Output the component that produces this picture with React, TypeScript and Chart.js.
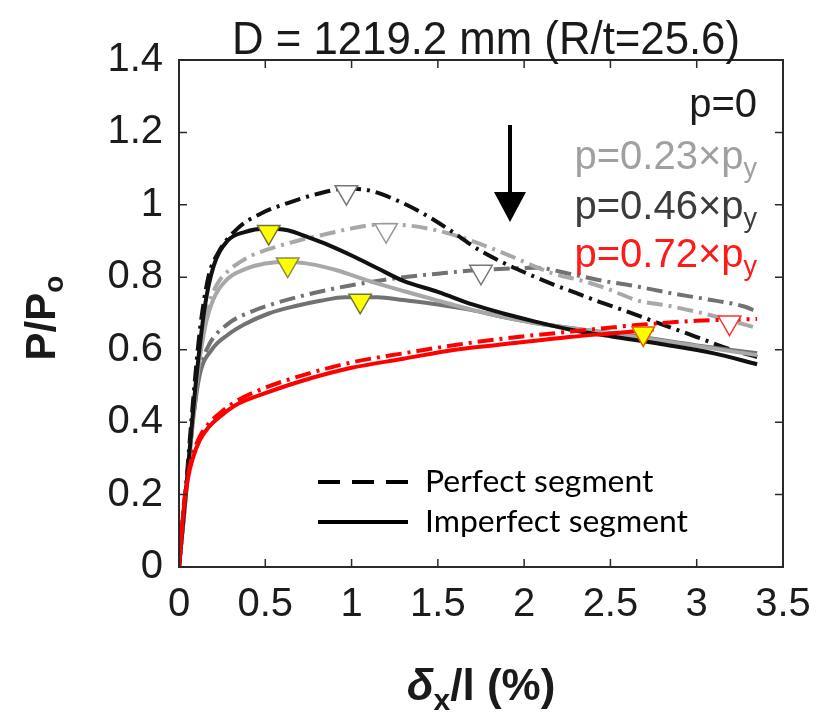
import React, { useEffect, useRef } from 'react';
import { Chart, registerables } from 'chart.js';

Chart.register(...registerables);

// ---------- data ----------
const X_TICKS = [0, 0.5, 1, 1.5, 2, 2.5, 3, 3.5];
const Y_TICKS = [0, 0.2, 0.4, 0.6, 0.8, 1.0, 1.2, 1.4];

const TITLE = 'D = 1219.2 mm (R/t=25.6)';
const PRESSURE_LABELS = ['p=0', 'p=0.23×p', 'p=0.46×p', 'p=0.72×p'];
const PRESSURE_SUBS = ['', 'y', 'y', 'y'];
const SEGMENT_LABELS = ['Perfect segment', 'Imperfect segment'];

// p = 0, perfect segment (dash-dot)
const p0PerfX = [0, 0.04, 0.08, 0.12, 0.17, 0.23, 0.34, 0.47, 0.63, 0.8, 0.97, 1.1, 1.25, 1.4, 1.57, 1.74, 1.88, 2.02, 2.17, 2.3, 2.42, 2.57, 2.77, 3.0, 3.2, 3.35];
const p0PerfY = [0, 0.22, 0.45, 0.65, 0.8, 0.87, 0.935, 0.975, 1.005, 1.03, 1.045, 1.04, 1.015, 0.98, 0.93, 0.875, 0.84, 0.81, 0.78, 0.757, 0.735, 0.71, 0.675, 0.635, 0.6, 0.58];
// p = 0, imperfect segment (solid)
const p0ImpX = [0, 0.05, 0.1, 0.15, 0.2, 0.28, 0.38, 0.5, 0.63, 0.75, 0.86, 1.0, 1.15, 1.3, 1.5, 1.7, 1.88, 2.07, 2.27, 2.5, 2.8, 3.1, 3.35];
const p0ImpY = [0, 0.26, 0.52, 0.72, 0.83, 0.9, 0.925, 0.935, 0.93, 0.91, 0.89, 0.86, 0.825, 0.79, 0.76, 0.725, 0.7, 0.677, 0.655, 0.637, 0.615, 0.59, 0.56];

// p = 0.23 py
const p23PerfX = [0, 0.04, 0.08, 0.12, 0.17, 0.22, 0.28, 0.4, 0.57, 0.72, 0.86, 1.0, 1.15, 1.25, 1.49, 1.7, 1.88, 2.17, 2.34, 2.5, 2.65, 2.85, 3.04, 3.2, 3.35];
const p23PerfY = [0, 0.2, 0.42, 0.6, 0.72, 0.78, 0.815, 0.855, 0.885, 0.905, 0.92, 0.935, 0.945, 0.945, 0.93, 0.9, 0.867, 0.81, 0.79, 0.765, 0.737, 0.72, 0.7, 0.68, 0.66];
const p23ImpX = [0, 0.05, 0.1, 0.15, 0.2, 0.28, 0.38, 0.5, 0.63, 0.78, 0.91, 1.1, 1.3, 1.49, 1.7, 1.88, 2.07, 2.3, 2.65, 3.0, 3.35];
const p23ImpY = [0, 0.25, 0.5, 0.66, 0.74, 0.795, 0.822, 0.838, 0.843, 0.835, 0.82, 0.79, 0.762, 0.737, 0.71, 0.69, 0.673, 0.658, 0.635, 0.61, 0.585];

// p = 0.46 py
const p46PerfX = [0, 0.04, 0.08, 0.12, 0.17, 0.28, 0.42, 0.57, 0.86, 1.15, 1.3, 1.5, 1.74, 2.07, 2.26, 2.46, 2.65, 2.84, 3.05, 3.27, 3.35];
const p46PerfY = [0, 0.2, 0.4, 0.54, 0.61, 0.67, 0.705, 0.73, 0.765, 0.79, 0.8, 0.81, 0.82, 0.826, 0.81, 0.79, 0.775, 0.757, 0.74, 0.72, 0.705];
const p46ImpX = [0, 0.04, 0.08, 0.12, 0.19, 0.28, 0.38, 0.52, 0.67, 0.82, 0.96, 1.15, 1.3, 1.5, 1.69, 1.88, 2.07, 2.3, 2.65, 3.0, 3.35];
const p46ImpY = [0, 0.2, 0.4, 0.53, 0.6, 0.64, 0.67, 0.7, 0.72, 0.735, 0.745, 0.745, 0.737, 0.725, 0.71, 0.69, 0.673, 0.658, 0.637, 0.612, 0.59];

// p = 0.72 py
const p72PerfX = [0, 0.01, 0.025, 0.05, 0.08, 0.12, 0.17, 0.25, 0.34, 0.5, 0.72, 1.0, 1.3, 1.6, 1.9, 2.27, 2.65, 3.0, 3.35];
const p72PerfY = [0, 0.07, 0.16, 0.25, 0.31, 0.36, 0.395, 0.43, 0.46, 0.495, 0.53, 0.565, 0.59, 0.613, 0.632, 0.65, 0.668, 0.68, 0.685];
const p72ImpX = [0, 0.01, 0.025, 0.05, 0.08, 0.12, 0.17, 0.25, 0.34, 0.5, 0.72, 1.0, 1.3, 1.6, 1.88, 2.26, 2.5, 2.75];
const p72ImpY = [0, 0.06, 0.15, 0.24, 0.3, 0.35, 0.385, 0.42, 0.45, 0.48, 0.515, 0.55, 0.575, 0.6, 0.615, 0.635, 0.645, 0.655];

// peak markers: open = perfect segment, yellow = imperfect segment
const openPeakX = [0.97, 1.2, 1.75, 3.19];
const openPeakY = [1.035, 0.93, 0.815, 0.675];
const yellowPeakX = [0.52, 0.63, 1.05, 2.69];
const yellowPeakY = [0.925, 0.835, 0.735, 0.645];

// ---------- styles ----------
const C_BLACK = '#111111';
const C_LIGHT = '#a8a8a8';
const C_DARK = '#727272';
const C_RED = '#ff0000';
const LABEL_COLORS = ['#1c1c1c', '#a0a0a0', '#3c3c3c', '#ff1a1a'];
const DASH_DOT = [16, 6, 3, 6];

const pts = (xs: number[], ys: number[]) => xs.map((x, i) => ({ x, y: ys[i] }));

const lineDs = (xs: number[], ys: number[], color: string, dashed: boolean) => ({
  data: pts(xs, ys),
  showLine: true,
  borderColor: color,
  borderWidth: 4,
  borderDash: dashed ? DASH_DOT : [],
  pointRadius: 0,
  cubicInterpolationMode: 'monotone' as const,
  fill: false,
});

const fmt = (v: any) => String(Number(Number(v).toFixed(2)));

const overlay = {
  id: 'overlay',
  afterDraw(chart: any) {
    const ctx = chart.ctx as CanvasRenderingContext2D;
    const { left, top, right, bottom } = chart.chartArea;
    const xs = chart.scales.x;
    const ys = chart.scales.y;
    ctx.save();

    // frame + inward ticks
    ctx.strokeStyle = '#2a2a2a';
    ctx.lineWidth = 2;
    ctx.setLineDash([]);
    ctx.strokeRect(left, top, right - left, bottom - top);
    ctx.lineWidth = 1.5;
    ctx.beginPath();
    X_TICKS.forEach((v) => {
      const px = xs.getPixelForValue(v);
      ctx.moveTo(px, bottom); ctx.lineTo(px, bottom - 8);
      ctx.moveTo(px, top); ctx.lineTo(px, top + 8);
    });
    Y_TICKS.forEach((v) => {
      const py = ys.getPixelForValue(v);
      ctx.moveTo(left, py); ctx.lineTo(left + 8, py);
      ctx.moveTo(right, py); ctx.lineTo(right - 8, py);
    });
    ctx.stroke();

    // title
    ctx.fillStyle = '#1a1a1a';
    ctx.font = '46px "Liberation Sans"';
    const tw = ctx.measureText(TITLE).width;
    ctx.save();
    ctx.translate(486, 54);
    ctx.scale(508 / tw, 1);
    ctx.textAlign = 'center';
    ctx.textBaseline = 'alphabetic';
    ctx.fillText(TITLE, 0, 0);
    ctx.restore();

    // pressure labels
    const baselines = [117, 169, 219, 267];
    PRESSURE_LABELS.forEach((t, i) => {
      ctx.fillStyle = LABEL_COLORS[i];
      ctx.font = '40px "Liberation Sans"';
      const wm = ctx.measureText(t).width;
      ctx.font = '27px "Liberation Sans"';
      const ws = PRESSURE_SUBS[i] ? ctx.measureText(PRESSURE_SUBS[i]).width : 0;
      const x0 = 757 - wm - ws;
      ctx.textAlign = 'left';
      ctx.font = '40px "Liberation Sans"';
      ctx.fillText(t, x0, baselines[i]);
      if (PRESSURE_SUBS[i]) {
        ctx.font = '27px "Liberation Sans"';
        ctx.fillText(PRESSURE_SUBS[i], x0 + wm, baselines[i] + 8);
      }
    });

    // arrow
    ctx.strokeStyle = '#000';
    ctx.fillStyle = '#000';
    ctx.lineWidth = 4;
    ctx.beginPath();
    ctx.moveTo(510, 125); ctx.lineTo(510, 196);
    ctx.stroke();
    ctx.beginPath();
    ctx.moveTo(494, 192); ctx.lineTo(526, 192); ctx.lineTo(510, 222);
    ctx.closePath();
    ctx.fill();

    // segment legend
    ctx.lineWidth = 4;
    ctx.setLineDash([22, 12]);
    ctx.beginPath(); ctx.moveTo(318, 482); ctx.lineTo(408, 482); ctx.stroke();
    ctx.setLineDash([]);
    ctx.beginPath(); ctx.moveTo(318, 522); ctx.lineTo(408, 522); ctx.stroke();
    ctx.fillStyle = '#000';
    ctx.font = '30px Lato';
    const w2 = ctx.measureText(SEGMENT_LABELS[1]).width;
    const sx = 263 / w2;
    [492, 532].forEach((by, i) => {
      ctx.save();
      ctx.translate(425, by);
      ctx.scale(sx, 1);
      ctx.textAlign = 'left';
      ctx.fillText(SEGMENT_LABELS[i], 0, 0);
      ctx.restore();
    });

    // y-axis title
    ctx.fillStyle = '#1a1a1a';
    ctx.save();
    ctx.translate(55, 318);
    ctx.rotate(-Math.PI / 2);
    ctx.font = 'bold 42px "Liberation Sans"';
    const wp = ctx.measureText('P/P').width;
    ctx.font = 'bold 28px "Liberation Sans"';
    const wo = ctx.measureText('o').width;
    const sx0 = -(wp + wo) / 2;
    ctx.textAlign = 'left';
    ctx.font = 'bold 42px "Liberation Sans"';
    ctx.fillText('P/P', sx0, 0);
    ctx.font = 'bold 28px "Liberation Sans"';
    ctx.fillText('o', sx0 + wp, 8);
    ctx.restore();

    // x-axis title
    ctx.font = 'bold italic 44px "Liberation Sans"';
    const wd = ctx.measureText('δ').width;
    ctx.font = 'bold 30px "Liberation Sans"';
    const wx = ctx.measureText('x').width;
    ctx.font = 'bold 44px "Liberation Sans"';
    const wr = ctx.measureText('/l (%)').width;
    const tot = wd + wx + wr;
    let cx = 481 - tot / 2;
    const by = 700;
    ctx.textAlign = 'left';
    ctx.font = 'bold italic 44px "Liberation Sans"';
    ctx.fillText('δ', cx, by); cx += wd;
    ctx.font = 'bold 30px "Liberation Sans"';
    ctx.fillText('x', cx, by + 10); cx += wx;
    ctx.font = 'bold 44px "Liberation Sans"';
    ctx.fillText('/l (%)', cx, by);

    ctx.restore();
  },
};

export default function App() {
  const ref = useRef<HTMLCanvasElement | null>(null);

  useEffect(() => {
    document.body.style.margin = '0';
    const canvas = ref.current;
    if (!canvas) return;

    const datasets: any[] = [
      {
        data: pts(yellowPeakX, yellowPeakY),
        pointStyle: 'triangle',
        pointRotation: 180,
        pointRadius: 13,
        pointBackgroundColor: '#ffff00',
        pointBorderColor: ['#707040', '#8a8a50', '#707040', '#e06000'],
        pointBorderWidth: 1.5,
        showLine: false,
      },
      {
        data: pts(openPeakX, openPeakY),
        pointStyle: 'triangle',
        pointRotation: 180,
        pointRadius: 13,
        pointBackgroundColor: '#ffffff',
        pointBorderColor: ['#777777', '#999999', '#777777', '#ff3030'],
        pointBorderWidth: 1.5,
        showLine: false,
      },
      lineDs(p72ImpX, p72ImpY, C_RED, false),
      lineDs(p72PerfX, p72PerfY, C_RED, true),
      lineDs(p0ImpX, p0ImpY, C_BLACK, false),
      lineDs(p23ImpX, p23ImpY, C_LIGHT, false),
      lineDs(p46ImpX, p46ImpY, C_DARK, false),
      lineDs(p0PerfX, p0PerfY, C_BLACK, true),
      lineDs(p23PerfX, p23PerfY, C_LIGHT, true),
      lineDs(p46PerfX, p46PerfY, C_DARK, true),
    ];

    const tickFont = { family: '"Liberation Sans"', size: 40 };

    const chart = new Chart(canvas, {
      type: 'scatter',
      data: { datasets },
      options: {
        responsive: false,
        animation: false,
        layout: { padding: { top: 60, right: 42, left: 0, bottom: 0 } },
        plugins: {
          legend: { display: false },
          tooltip: { enabled: false },
          title: { display: false },
        },
        scales: {
          x: {
            type: 'linear',
            min: 0,
            max: 3.5,
            afterFit: (s: any) => { s.height = 152; },
            afterBuildTicks: (s: any) => { s.ticks = X_TICKS.map((v) => ({ value: v })); },
            grid: { display: false, drawTicks: false, tickLength: 0 },
            border: { display: false },
            ticks: { font: tickFont, color: '#1c1c1c', padding: 14, autoSkip: false, maxRotation: 0, callback: fmt },
          },
          y: {
            type: 'linear',
            min: 0,
            max: 1.4,
            afterFit: (s: any) => { s.width = 179; },
            afterBuildTicks: (s: any) => { s.ticks = Y_TICKS.map((v) => ({ value: v })); },
            grid: { display: false, drawTicks: false, tickLength: 0 },
            border: { display: false },
            ticks: { font: tickFont, color: '#1c1c1c', padding: 16, autoSkip: false, callback: fmt },
          },
        },
      },
      plugins: [overlay],
    } as any);

    return () => chart.destroy();
  }, []);

  return (
    <div style={{ position: 'absolute', left: 0, top: 0, width: 825, height: 719, background: '#fff' }}>
      <canvas ref={ref} width={825} height={719} />
    </div>
  );
}
